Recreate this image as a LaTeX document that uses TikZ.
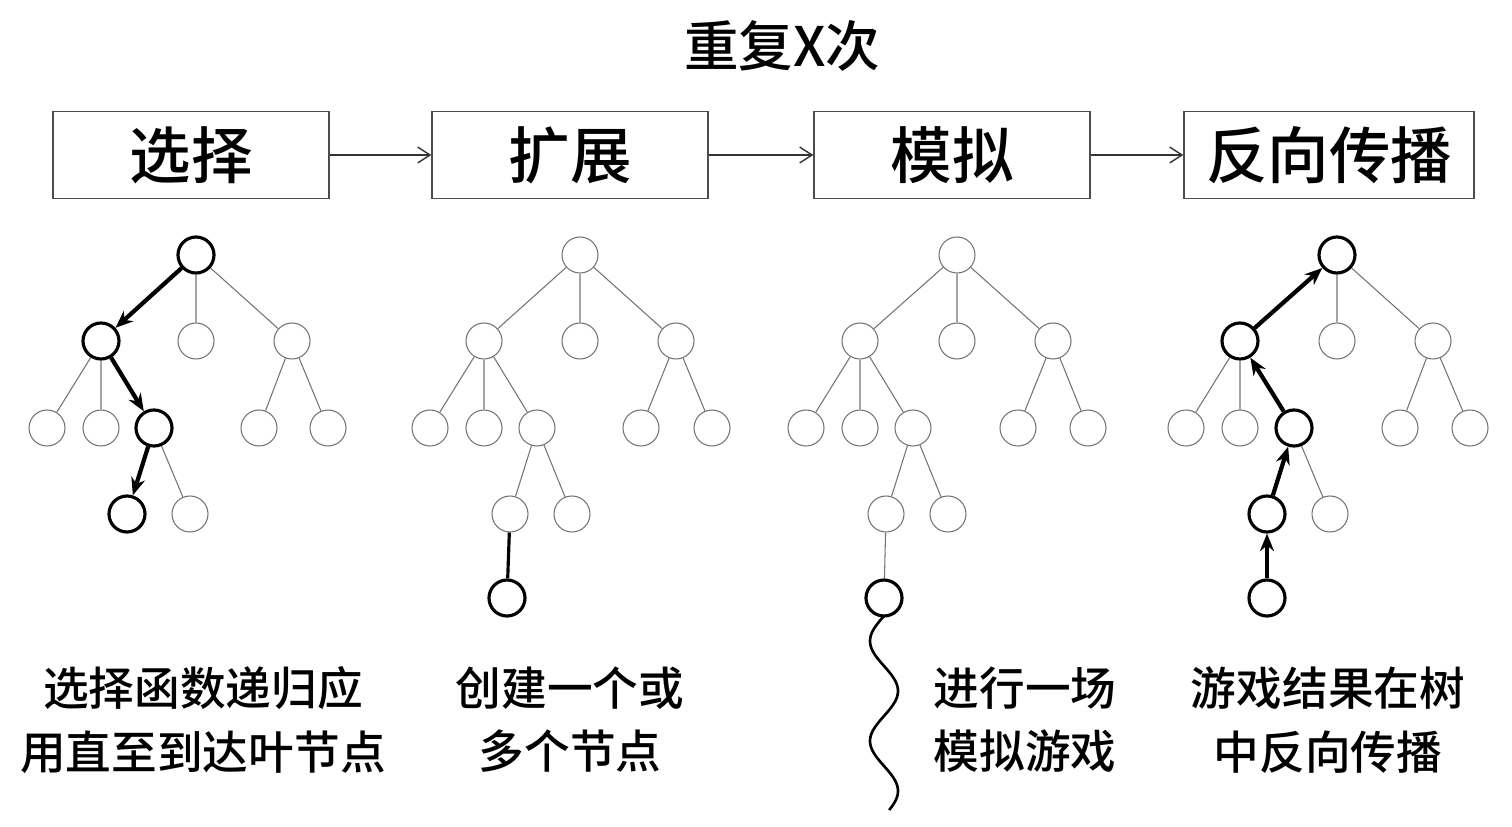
\documentclass[tikz,border=0pt]{standalone}
\usepackage{fontspec}
\newfontfamily\cjk{Noto Sans CJK SC}[UprightFont=* Medium]
\usetikzlibrary{arrows.meta,calc}
\begin{document}
\begin{tikzpicture}[x=0.02cm,y=-0.02cm,
  n/.style={circle,draw=black!55,line width=0.6pt,minimum size=0.72cm,inner sep=0pt,fill=white},
  b/.style={circle,draw=black,line width=1.8pt,minimum size=0.72cm,inner sep=0pt,fill=white},
  e/.style={draw=black!55,line width=0.6pt},
  be/.style={draw=black,line width=2.4pt,-{Stealth[length=10pt,width=8pt]}},
  box/.style={draw=black!70,line width=0.8pt,minimum height=1.74cm,inner sep=0pt,font=\cjk\fontsize{35}{40}\selectfont},
  flow/.style={draw=black!80,line width=0.8pt,-{Straight Barb[length=7pt,width=9pt]}},
  txt/.style={font=\cjk\fontsize{26}{36}\selectfont,align=center}]
\useasboundingbox (0,0) rectangle (1512,827);
\node[font=\cjk\fontsize{31}{34}\selectfont] (title) at (782,46) {重复X次};
\node[box,minimum width=5.52cm] (B1) at (191,155) {选择};
\node[box,minimum width=5.52cm] (B2) at (570,155) {扩展};
\node[box,minimum width=5.52cm] (B3) at (952,155) {模拟};
\node[box,minimum width=5.8cm] (B4) at (1329,155) {反向传播};
\draw[flow] (B1) -- (B2);
\draw[flow] (B2) -- (B3);
\draw[flow] (B3) -- (B4);
% Tree 1
\node[b] (a0) at (196,255) {};
\node[b] (a1) at (101,341) {};
\node[n] (a2) at (196,341) {};
\node[n] (a3) at (292,341) {};
\node[n] (a4) at (47,428) {};
\node[n] (a5) at (101,428) {};
\node[b] (a6) at (154,428) {};
\node[n] (a7) at (259,428) {};
\node[n] (a8) at (328,428) {};
\node[b] (a9) at (127,514) {};
\node[n] (a10) at (190,514) {};
\draw[e] (a0)--(a2) (a0)--(a3) (a1)--(a4) (a1)--(a5) (a3)--(a7) (a3)--(a8) (a6)--(a10);
\draw[be] (a0)--(a1);
\draw[be] (a1)--(a6);
\draw[be] (a6)--(a9);
% Tree 2
\node[n] (c0) at (580,255) {};
\node[n] (c1) at (484,341) {};
\node[n] (c2) at (580,341) {};
\node[n] (c3) at (676,341) {};
\node[n] (c4) at (430,428) {};
\node[n] (c5) at (484,428) {};
\node[n] (c6) at (537,428) {};
\node[n] (c7) at (641,428) {};
\node[n] (c8) at (712,428) {};
\node[n] (c9) at (510,514) {};
\node[n] (c10) at (572,514) {};
\node[b] (c11) at (507,598) {};
\draw[e] (c0)--(c1) (c0)--(c2) (c0)--(c3) (c1)--(c4) (c1)--(c5) (c1)--(c6) (c3)--(c7) (c3)--(c8) (c6)--(c9) (c6)--(c10);
\draw[black,line width=1.8pt] (c9)--(c11);
% Tree 3
\node[n] (d0) at (957,255) {};
\node[n] (d1) at (860,341) {};
\node[n] (d2) at (957,341) {};
\node[n] (d3) at (1053,341) {};
\node[n] (d4) at (806,428) {};
\node[n] (d5) at (860,428) {};
\node[n] (d6) at (913,428) {};
\node[n] (d7) at (1018,428) {};
\node[n] (d8) at (1088,428) {};
\node[n] (d9) at (886,514) {};
\node[n] (d10) at (948,514) {};
\node[b] (d11) at (884,598) {};
\draw[e] (d0)--(d1) (d0)--(d2) (d0)--(d3) (d1)--(d4) (d1)--(d5) (d1)--(d6) (d3)--(d7) (d3)--(d8) (d6)--(d9) (d6)--(d10) (d9)--(d11);
\coordinate (w0) at (d11.south);
\draw[black,line width=1.5pt] (w0) plot[domain=616:810,samples=80,smooth] ({884-14*sin((\x-616)*3.6)},\x);
% Tree 4
\node[b] (f0) at (1337,255) {};
\node[b] (f1) at (1240,341) {};
\node[n] (f2) at (1337,341) {};
\node[n] (f3) at (1433,341) {};
\node[n] (f4) at (1186,428) {};
\node[n] (f5) at (1240,428) {};
\node[b] (f6) at (1294,428) {};
\node[n] (f7) at (1400,428) {};
\node[n] (f8) at (1470,428) {};
\node[b] (f9) at (1267,514) {};
\node[n] (f10) at (1330,514) {};
\node[b] (f11) at (1267,598) {};
\draw[e] (f0)--(f2) (f0)--(f3) (f1)--(f4) (f1)--(f5) (f3)--(f7) (f3)--(f8) (f6)--(f10);
\draw[be] (f11)--(f9);
\draw[be] (f9)--(f6);
\draw[be] (f6)--(f1);
\draw[be] (f1)--(f0);
% texts
\node[txt] (t1) at (203,720) {选择函数递归应\\用直至到达叶节点};
\node[txt] (t2) at (570,720) {创建一个或\\多个节点};
\node[txt] (t3) at (1025,720) {进行一场\\模拟游戏};
\node[txt] (t4) at (1328,720) {游戏结果在树\\中反向传播};
\end{tikzpicture}
\end{document}
